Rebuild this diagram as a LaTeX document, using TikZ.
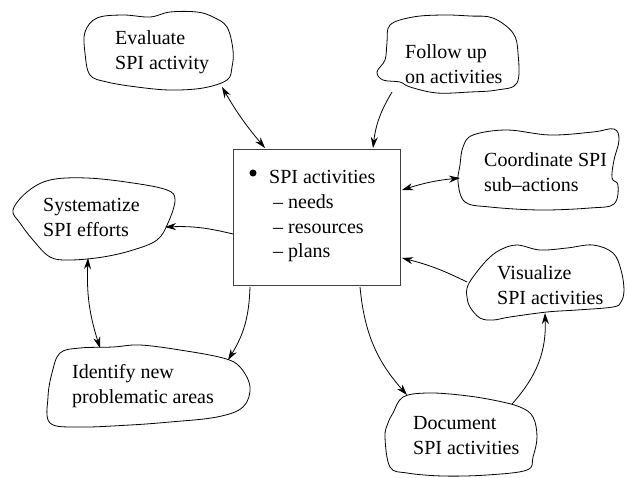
\documentclass[tikz,border=0pt]{standalone}
\usepackage{fontspec}
\setmainfont{Liberation Serif}
\usetikzlibrary{arrows.meta}
\begin{document}
\begin{tikzpicture}[x=1pt,y=-1pt,
  blob/.style={draw,line width=0.8pt},
  lbl/.style={anchor=base west,inner sep=0pt,align=left,font=\fontsize{20}{25}\selectfont},
  conn/.style={line width=0.8pt,-{Stealth[length=11pt,width=7pt]}},
  biconn/.style={line width=0.8pt,{Stealth[length=11pt,width=7pt]}-{Stealth[length=11pt,width=7pt]}},
  centerbox/.style={draw=black!75,line width=1pt,minimum width=167pt,minimum height=136pt,inner sep=0pt}]
\useasboundingbox (0,0) rectangle (627,477);

% central box with its list
\node[centerbox] (box) at (316.5,217) {};
\fill (253,173) circle (3.5pt);
\node[lbl] (t1) at (269,183) {SPI activities};
\node[lbl] (t2) at (273,208) {-- needs};
\node[lbl] (t3) at (273,233) {-- resources};
\node[lbl] (t4) at (273,257) {-- plans};

% cloud outlines
\draw[blob] plot[smooth cycle,tension=0.6] coordinates {(85,32) (97,18) (123,15) (150,17) (170,12) (197,12) (213,17) (227,27) (233,50) (232,67) (227,80) (203,88) (170,90) (137,87) (107,82) (90,75) (85,53)};
\draw[blob] plot[smooth cycle,tension=0.6] coordinates {(390,25) (413,17) (443,15) (470,16) (493,18) (513,33) (518,53) (517,83) (497,90) (470,92) (437,93) (410,87) (400,82) (383,80) (377,72) (385,60) (387,43)};
\draw[blob] plot[smooth cycle,tension=0.6] coordinates {(463,147) (473,135) (507,130) (550,135) (593,132) (614,129) (619,140) (614,160) (612,178) (618,185) (614,204) (590,208) (540,210) (490,207) (465,202) (458,182) (460,165)};
\draw[blob] plot[smooth cycle,tension=0.6] coordinates {(13,210) (27,192) (50,180) (87,178) (133,183) (167,190) (175,200) (168,223) (157,240) (133,250) (103,257) (70,260) (50,257) (33,240) (20,223)};
\draw[blob] plot[smooth cycle,tension=0.6] coordinates {(60,353) (80,348) (113,347) (140,345) (180,350) (223,358) (240,367) (250,387) (243,407) (217,417) (170,422) (130,425) (80,427) (50,423) (48,397) (52,373)};
\draw[blob] plot[smooth cycle,tension=0.6] coordinates {(467,288) (473,277) (487,260) (500,250) (517,245) (540,250) (567,248) (593,245) (613,253) (621,270) (624,290) (621,302) (613,307) (577,310) (547,312) (510,317) (493,320) (480,318) (470,307) (467,297)};
\draw[blob] plot[smooth cycle,tension=0.6] coordinates {(393,413) (403,397) (427,393) (460,395) (493,400) (520,407) (533,417) (537,437) (533,457) (527,470) (487,475) (443,476) (407,473) (390,467) (385,437) (388,423)};

% cloud texts (anchored at the baseline of the last line)
\node[lbl] (evaluate) at (115,69) {Evaluate\\SPI activity};
\node[lbl] (follow) at (405,83) {Follow up\\on activities};
\node[lbl] (coord) at (484,191) {Coordinate SPI\\sub--actions};
\node[lbl] (system) at (43,236) {Systematize\\SPI efforts};
\node[lbl] (identify) at (72,403) {Identify new\\problematic areas};
\node[lbl] (visual) at (497,304) {Visualize\\SPI activities};
\node[lbl] (document) at (413,454) {Document\\SPI activities};

% connector end points on the cloud outlines and the box
\coordinate (evaluate-e) at (222,87);
\coordinate (box-evaluate) at (265,148);
\coordinate (follow-e) at (392,92);
\coordinate (box-follow) at (373,148);
\coordinate (box-coord) at (402,190);
\coordinate (coord-e) at (460,178);
\coordinate (box-system) at (233,234);
\coordinate (system-e) at (165,227);
\coordinate (system-s) at (88,258);
\coordinate (identify-n) at (100,348);
\coordinate (box-identify) at (250,287);
\coordinate (identify-e) at (228,360);
\coordinate (visual-w) at (467,282);
\coordinate (box-visual) at (402,258);
\coordinate (box-document) at (360,287);
\coordinate (document-n) at (407,395);
\coordinate (document-e) at (512,404);
\coordinate (visual-s) at (545,313);

% connectors
\draw[biconn] (evaluate-e) to[bend right=5] (box-evaluate);
\draw[conn] (follow-e) to[bend right=12] (box-follow);
\draw[biconn] (box-coord) to[bend left=6] (coord-e);
\draw[conn] (box-system) to[bend right=8] (system-e);
\draw[biconn] (system-s) to[bend right=10] (identify-n);
\draw[conn] (box-identify) to[bend left=15] (identify-e);
\draw[conn] (visual-w) to[bend right=6] (box-visual);
\draw[conn] (box-document) to[bend right=18] (document-n);
\draw[conn] (document-e) to[bend right=22] (visual-s);
\end{tikzpicture}
\end{document}
